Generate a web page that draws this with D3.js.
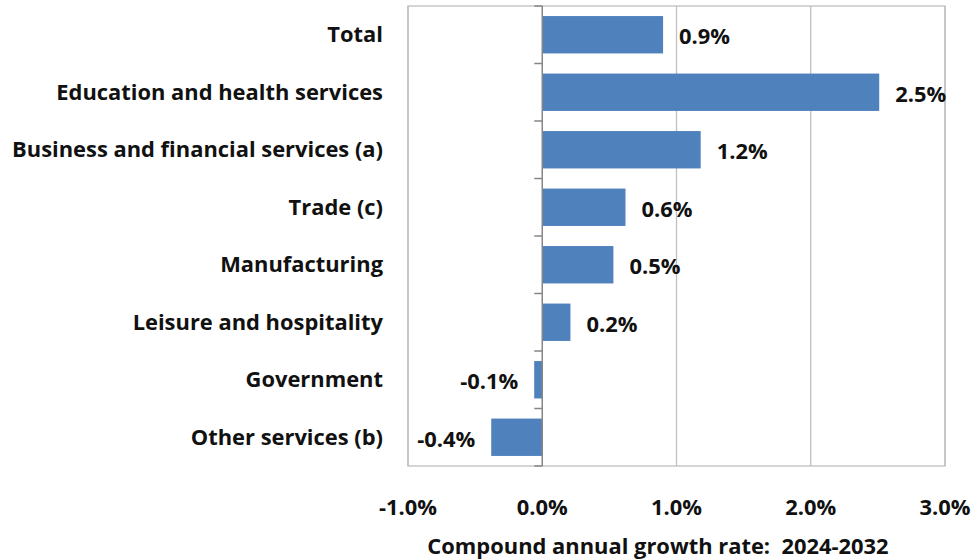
<!DOCTYPE html>
<html><head><meta charset="utf-8">
<script src="https://cdn.jsdelivr.net/npm/d3@7"></script>
<style>body{margin:0;background:#fff;} svg{display:block;} text{white-space:pre;}</style>
</head><body>
<svg id="c" width="977" height="560"></svg>
<script>
const categories = ["Total","Education and health services","Business and financial services (a)","Trade (c)","Manufacturing","Leisure and hospitality","Government","Other services (b)"];
const values = [0.90, 2.51, 1.18, 0.62, 0.53, 0.21, -0.06, -0.38];
const valueLabels = ["0.9%","2.5%","1.2%","0.6%","0.5%","0.2%","-0.1%","-0.4%"];
const xTicks = [-1, 0, 1, 2, 3];
const xTickLabels = ["-1.0%","0.0%","1.0%","2.0%","3.0%"];
const axisTitle = "Compound annual growth rate:  2024-2032";

const font = "'Open Sans', sans-serif";
const fw = 700;
const fs = 21.9;
const svg = d3.select("#c");
const L = 408, R = 945, T = 6, B = 466;
const x = d3.scaleLinear().domain([-1, 3]).range([L, R]);
const y = d3.scaleBand().domain(categories).range([T, B]).paddingInner(0.35).paddingOuter(0.175);
const yb = d3.scaleBand().domain(categories).range([T, B]);

svg.append("g").selectAll("line").data(xTicks.filter(d => d !== 0)).join("line")
  .attr("x1", d => x(d)).attr("x2", d => x(d)).attr("y1", T).attr("y2", B)
  .attr("stroke", "#BFBFBF").attr("stroke-width", 1.3);
svg.append("rect").attr("x", L).attr("y", T).attr("width", R - L).attr("height", B - T)
  .attr("fill", "none").attr("stroke", "#BFBFBF").attr("stroke-width", 1.3);

svg.append("g").selectAll("rect").data(categories).join("rect")
  .attr("x", (d, i) => x(Math.min(0, values[i])))
  .attr("width", (d, i) => Math.abs(x(values[i]) - x(0)))
  .attr("y", d => y(d)).attr("height", y.bandwidth())
  .attr("fill", "#4F81BD");

const ax = svg.append("g");
ax.append("line").attr("x1", x(0)).attr("x2", x(0)).attr("y1", T).attr("y2", B)
  .attr("stroke", "#868686").attr("stroke-width", 1.5);
const bounds = categories.map(d => yb(d)).concat([B]);
ax.selectAll("line.t").data(bounds).join("line").attr("class", "t")
  .attr("x1", x(0) - 8).attr("x2", x(0)).attr("y1", d => d).attr("y2", d => d)
  .attr("stroke", "#868686").attr("stroke-width", 1.5);

function txt(sel) {
  return sel.attr("font-family", font).attr("font-weight", fw).attr("font-size", fs).attr("fill", "#111");
}

txt(svg.append("g").selectAll("text").data(categories).join("text")
  .attr("x", 383).attr("y", d => yb(d) + yb.bandwidth() / 2)
  .attr("dy", "0.35em").attr("text-anchor", "end")).text(d => d);

txt(svg.append("g").selectAll("text").data(categories).join("text")
  .attr("x", (d, i) => values[i] >= 0 ? x(values[i]) + 16 : x(values[i]) - 16)
  .attr("y", d => y(d) + y.bandwidth() / 2 + 2)
  .attr("dy", "0.35em")
  .attr("text-anchor", (d, i) => values[i] >= 0 ? "start" : "end")).text((d, i) => valueLabels[i]);

txt(svg.append("g").selectAll("text").data(xTicks).join("text")
  .attr("x", d => x(d)).attr("y", 507).attr("dy", "0.35em").attr("text-anchor", "middle"))
  .text((d, i) => xTickLabels[i]);

txt(svg.append("text").attr("x", 658).attr("y", 546).attr("dy", "0.35em")
  .attr("text-anchor", "middle")).text(axisTitle);
</script>
</body></html>
